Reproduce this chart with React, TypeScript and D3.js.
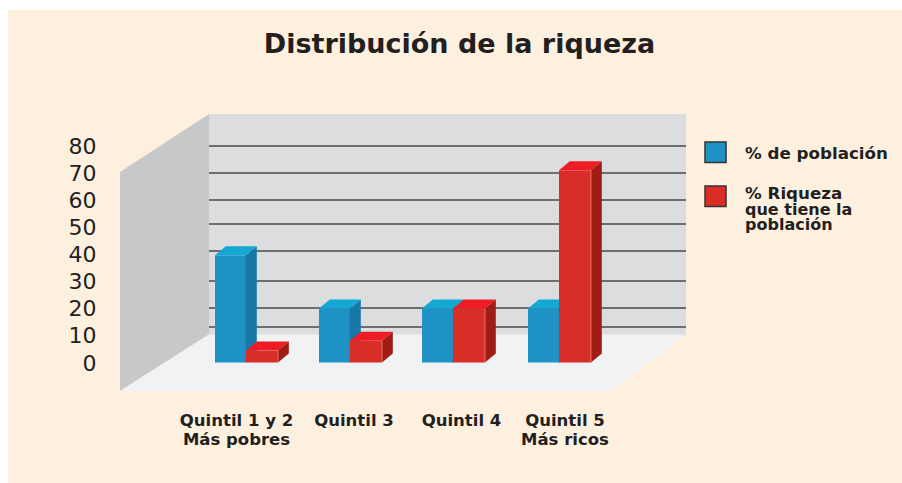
import React from "react";
import * as d3 from "d3";

const categories = [["Quintil 1 y 2", "Más pobres"], ["Quintil 3"], ["Quintil 4"], ["Quintil 5", "Más ricos"]];
const poblacion = [39.6, 20, 20, 20];
const riqueza = [4.4, 8, 20, 71];
const axisTicks = [0, 10, 20, 30, 40, 50, 60, 70, 80];
const gridValues = [2.8, 9.8, 19.8, 30.7, 40.7, 49.7, 59.7, 69.6];
const legendLabels = [["% de población"], ["% Riqueza", "que tiene la", "población"]];

const FONT = "Verdana, 'DejaVu Sans', sans-serif";
const DX = 10.8;
const DY = 9;
const BLUE = { front: "#2093c6", top: "#14a8d5", side: "#1779a6", edge: "#1779a6" };
const RED = { front: "#d92e27", top: "#ee1c25", side: "#a01c15", edge: "#e89a94" };
const BACK_DX = 89;
const BACK_DY = 28;

const y = d3.scaleLinear().domain([0, 80]).range([362.5, 146]);
const slot = d3.scaleOrdinal<number, number>().domain([0, 1, 2, 3]).range([246, 350, 453, 559]);
const labelX = d3.scaleOrdinal<number, number>().domain([0, 1, 2, 3]).range([236.5, 354, 461.5, 565]);
const blueW = 31;
const redW = 32;

function Bar({ left, w, v, c }: { left: number; w: number; v: number; c: typeof BLUE }) {
  const t = y(v);
  const b = y(0);
  const r = left + w;
  return (
    <g>
      <rect x={left} y={t} width={w} height={b - t} fill={c.front} />
      <polygon points={`${left},${t} ${left + DX},${t - DY} ${r + DX},${t - DY} ${r},${t}`} fill={c.top} />
      <polygon points={`${r},${t} ${r + DX},${t - DY} ${r + DX},${b - DY} ${r},${b}`} fill={c.side} />
      <line x1={r} x2={r} y1={t} y2={b} stroke={c.edge} strokeWidth={0.7} />
    </g>
  );
}

export default function App() {
  const backFloor = y(0) - BACK_DY;
  const wallX = 209;
  const wallR = 686;
  return (
    <svg width={902} height={483} style={{ position: "absolute", left: 0, top: 0, background: "#fff" }}>
      <rect x={8} y={10} width={894} height={473} fill="#fef0df" />
      <text x={459.5} y={53} textAnchor="middle" fontFamily={FONT} fontWeight="bold" fontSize={27} fill="#231f20">
        Distribución de la riqueza
      </text>
      <rect x={wallX} y={114} width={wallR - wallX} height={backFloor - 114 + 1} fill="#dcddde" />
      <polygon points={`${wallX - BACK_DX},172 ${wallX},114 ${wallX},${backFloor} ${wallX - BACK_DX},391`} fill="#c7c8ca" />
      <polygon points={`${wallX - BACK_DX},391 ${wallX},${backFloor} ${wallR},${backFloor} 610,391`} fill="#f1f2f4" />
      {gridValues.map((v) => {
        const gy = Math.round(y(v) - BACK_DY);
        return <line key={v} x1={wallX} x2={wallR} y1={gy} y2={gy} stroke="#6d6e70" strokeWidth={2} />;
      })}
      {axisTicks.map((v) => (
        <text key={v} x={96.5} y={y(v) + 8} textAnchor="end" fontFamily={FONT} fontSize={22} fill="#231f20">
          {v}
        </text>
      ))}
      {categories.map((lines, i) => {
        const cx = slot(i);
        return (
          <g key={i}>
            <Bar left={cx - blueW} w={blueW} v={poblacion[i]} c={BLUE} />
            <Bar left={cx} w={redW} v={riqueza[i]} c={RED} />
            {lines.map((l, j) => (
              <text key={l} x={labelX(i)} y={426 + j * 19} textAnchor="middle" fontFamily={FONT} fontWeight="bold" fontSize={16.5} fill="#231f20">
                {l}
              </text>
            ))}
          </g>
        );
      })}
      {legendLabels.map((lines, i) => {
        const ly = i === 0 ? 142 : 186;
        const color = i === 0 ? BLUE.front : RED.front;
        return (
          <g key={i}>
            <rect x={705} y={ly} width={21} height={20.5} fill={color} stroke="#333" strokeWidth={1.5} />
            {lines.map((l, j) => (
              <text key={l} x={745} y={(i === 0 ? 158.5 : 199) + j * 15.5} fontFamily={FONT} fontWeight="bold" fontSize={j === 0 ? 16.7 : 16} fill="#231f20">
                {l}
              </text>
            ))}
          </g>
        );
      })}
    </svg>
  );
}
